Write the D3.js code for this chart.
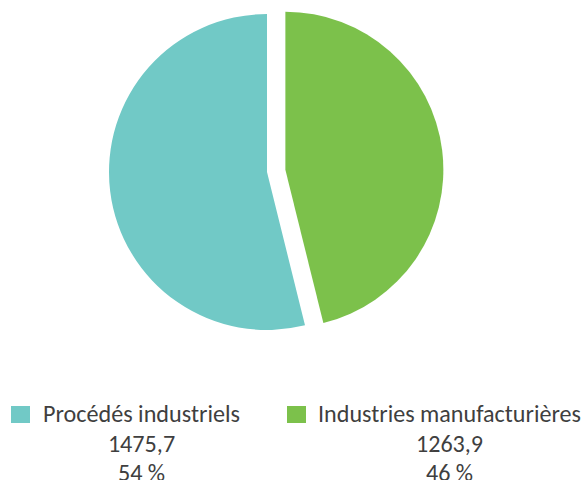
<!DOCTYPE html>
<html>
<head>
<meta charset="utf-8">
<script src="https://cdn.jsdelivr.net/npm/d3@7"></script>
<style>
  html, body { margin: 0; padding: 0; background: #ffffff; }
  svg { display: block; }
  text { font-family: Carlito, Calibri, Lato, "Open Sans", sans-serif; fill: #3f3f3f; }
</style>
</head>
<body>
<svg id="chart" width="584" height="480"></svg>
<script>
// Emissions by sub-sector
const categories = ["Procédés industriels", "Industries manufacturières"];
const values = [1475.7, 1263.9];
const valueLabels = ["1475,7", "1263,9"];
const percentLabels = ["54 %", "46 %"];
const colors = ["#71c9c6", "#7cc14b"];

const width = 584, height = 480;
const svg = d3.select("#chart");

const cx = 267, cy = 172, radius = 158;
const explode = [0, 18.5];

// Green slice runs clockwise from 12 o'clock, teal fills the rest
const pie = d3.pie().sort(null).startAngle(0).endAngle(2 * Math.PI);
const order = [1, 0];
const arcsData = pie(order.map(i => values[i]));
const arc = d3.arc().innerRadius(0).outerRadius(radius);

const g = svg.append("g").attr("transform", `translate(${cx},${cy})`);
g.selectAll("path")
  .data(arcsData)
  .join("path")
  .attr("d", arc)
  .attr("fill", (d, k) => colors[order[k]])
  .attr("transform", (d, k) => {
    const a = (d.startAngle + d.endAngle) / 2;
    const off = explode[order[k]];
    return `translate(${off * Math.sin(a)},${-off * Math.cos(a)})`;
  });

// Legend with value and share under each entry
const legendX = [11, 287];
const textX = [43, 318];
const textW = [197, 263];
const fs = 20;
const leg = svg.append("g");
categories.forEach((c, i) => {
  leg.append("rect")
    .attr("x", legendX[i]).attr("y", 406)
    .attr("width", 19).attr("height", 17)
    .attr("fill", colors[i]);
  const t = leg.append("text")
    .attr("x", textX[i]).attr("y", 422)
    .attr("font-size", fs)
    .text(c);
  const w = t.node().getComputedTextLength();
  const size = fs * textW[i] / w;
  t.attr("font-size", size);
  const mid = textX[i] + textW[i] / 2;
  leg.append("text").attr("x", mid).attr("y", 452)
    .attr("text-anchor", "middle").attr("font-size", size)
    .text(valueLabels[i]);
  leg.append("text").attr("x", mid).attr("y", 481)
    .attr("text-anchor", "middle").attr("font-size", size)
    .text(percentLabels[i]);
});
</script>
</body>
</html>
